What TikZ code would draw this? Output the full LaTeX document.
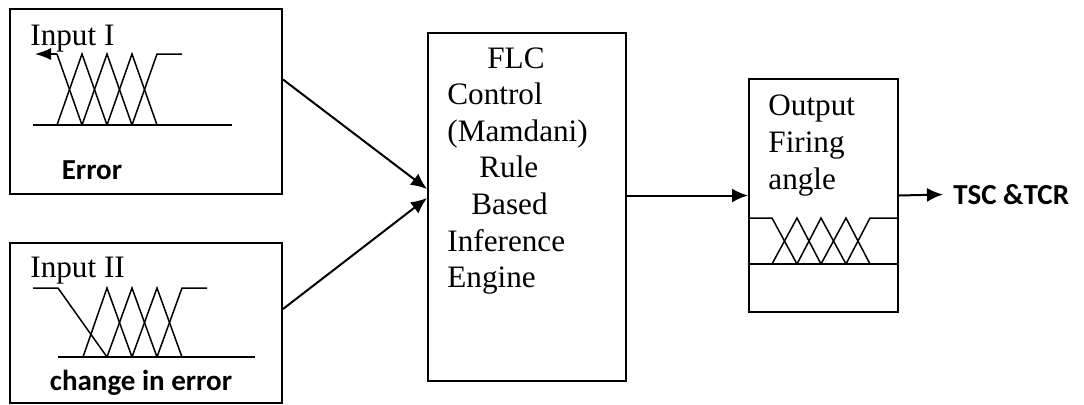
\documentclass[tikz,border=0pt]{standalone}
\usepackage{fontspec}
\setmainfont{Liberation Serif}
\newfontfamily\labelfont{Carlito}
\usetikzlibrary{arrows.meta}

\tikzset{
  block/.style={draw,line width=1pt,rectangle,inner sep=0pt,anchor=north west},
  mf/.style={line width=0.75pt},
  flow/.style={line width=1pt,-{Latex[length=8pt,width=7pt]}},
  boxtext/.style={font=\fontsize{15.6}{18.3}\selectfont,align=left,inner sep=0pt,anchor=north west},
  tag/.style={font=\labelfont\bfseries\fontsize{14.5}{17}\selectfont,inner sep=0pt}
}

\begin{document}
\begin{tikzpicture}[x=0.5pt,y=-0.5pt]
  \useasboundingbox (0,0) rectangle (1084,404);

  % Draw the blocks
  \node[block,minimum width=136pt,minimum height=92.5pt] (in1) at (9,8) {};
  \node[block,minimum width=136pt,minimum height=80pt] (in2) at (9,242) {};
  \node[block,minimum width=99pt,minimum height=174pt] (flc) at (427,32) {};
  \node[block,minimum width=74.5pt,minimum height=116.5pt] (out) at (748,78) {};

  % Texts of the blocks
  \node[boxtext] (in1txt) at (30,25) {Input I};
  \node[boxtext] (in2txt) at (30,257) {Input II};
  \node[tag] (err) at (92,170) {Error};
  \node[tag] (derr) at (141,383) {change in error};
  \node[boxtext] (flctxt) at (447,47) {\hspace*{20pt}FLC\\Control\\(Mamdani)\\\hspace*{16pt}Rule\\\hspace*{12pt}Based\\Inference\\Engine};
  \node[boxtext,font=\fontsize{15.6}{18.5}\selectfont] (outtxt) at (768,94) {Output\\Firing\\angle};
  \node[tag,anchor=west,inner xsep=5pt] (tsc) at (943,194.5) {TSC \&TCR};

  % Draw the membership functions of input I
  \draw[mf,-{Latex[length=8pt,width=6pt]}] (57,54) -- (35,54);
  \draw[mf] (57,54) -- (82,125);
  \draw[mf] (57,125) -- (82,54) -- (107,125);
  \draw[mf] (82,125) -- (107,54) -- (132,125);
  \draw[mf] (107,125) -- (132,54) -- (157,125);
  \draw[mf] (132,125) -- (157,54) -- (182,54);
  \draw[mf] (33,125) -- (232,125);

  % Draw the membership functions of input II
  \draw[mf] (33,288) -- (58,288) -- (107,357);
  \draw[mf] (83,357) -- (107,288) -- (132,357);
  \draw[mf] (107,357) -- (132,288) -- (157,357);
  \draw[mf] (132,357) -- (157,288) -- (182,357);
  \draw[mf] (157,357) -- (182,288) -- (207,288);
  \draw[mf] (58,357) -- (255,357);

  % Draw the output membership functions
  \draw[mf] (748,218) -- (772,218) -- (797,264);
  \draw[mf] (772,264) -- (797,218) -- (821,264);
  \draw[mf] (797,264) -- (821,218) -- (846,264);
  \draw[mf] (821,264) -- (846,218) -- (870,264);
  \draw[mf] (846,264) -- (870,218) -- (897,218);
  \draw[line width=1pt] (out.west |- 0,264) -- (out.east |- 0,264);

  % Draw the arrows
  \draw[flow] ([yshift=11pt]in1.east) -- ([yshift=9pt]flc.west);
  \draw[flow] ([yshift=7pt]in2.east) -- ([yshift=4.5pt]flc.west);
  \draw[flow] (flc.east |- out.west) -- (out.west);
  \draw[flow] (out.east) -- (tsc.west);
\end{tikzpicture}
\end{document}
